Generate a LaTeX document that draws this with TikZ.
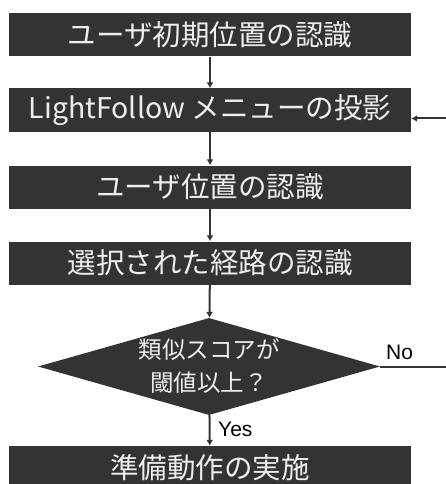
\documentclass[tikz,border=0pt]{standalone}
\usepackage{fontspec}
\newfontfamily\cjk{Noto Sans CJK JP}
\newfontfamily\lat{Liberation Sans}
\usetikzlibrary{shapes.geometric,arrows.meta}
\definecolor{boxgray}{HTML}{333333}
\definecolor{txtgray}{HTML}{EEEEEE}
\definecolor{linegray}{HTML}{333333}
\begin{document}
\begin{tikzpicture}[x=1pt,y=-1pt,
  stepbox/.style={fill=boxgray,text=txtgray,minimum width=402pt,minimum height=43pt,inner sep=0pt,
    font=\cjk\fontsize{28.5}{30}\selectfont},
  decide/.style={diamond,fill=boxgray,text=txtgray,minimum width=342pt,minimum height=97pt,inner sep=0pt,
    shape aspect=3.5,align=center,font=\cjk\fontsize{23.5}{33}\selectfont},
  conn/.style={draw=linegray,line width=2pt,-{Latex[length=6pt,width=7pt]}},
  plain/.style={draw=linegray,line width=2pt},
  lbl/.style={font=\lat\fontsize{21}{24}\selectfont,text=black,inner sep=0pt}]
\useasboundingbox (0,0) rectangle (446,484);
\node[stepbox] (b1) at (210,35) {ユーザ初期位置の認識};
\node[stepbox] (b2) at (210,110) {LightFollow メニューの投影};
\node[stepbox] (b3) at (210,187) {ユーザ位置の認識};
\node[stepbox] (b4) at (210,263) {選択された経路の認識};
\node[decide] (d) at (209,366.5) {類似スコアが\\閾値以上？};
\node[stepbox] (b5) at (210,467.5) {準備動作の実施};
\coordinate (rin) at (446,118.5);
\coordinate (rout) at (446,366.5);
\draw[conn] (b1) -- (b2);
\draw[conn] (b2) -- (b3);
\draw[conn] (b3) -- (b4);
\draw[conn] (b4) -- (d);
\draw[conn] (d) -- (b5);
\draw[plain] (d.east) -- (rout);
\draw[conn] (rin) -- (rin -| b2.east);
\node[lbl,anchor=west] (yes) at (218,429) {Yes};
\node[lbl,anchor=west] (no) at (386,352) {No};
\end{tikzpicture}
\end{document}
